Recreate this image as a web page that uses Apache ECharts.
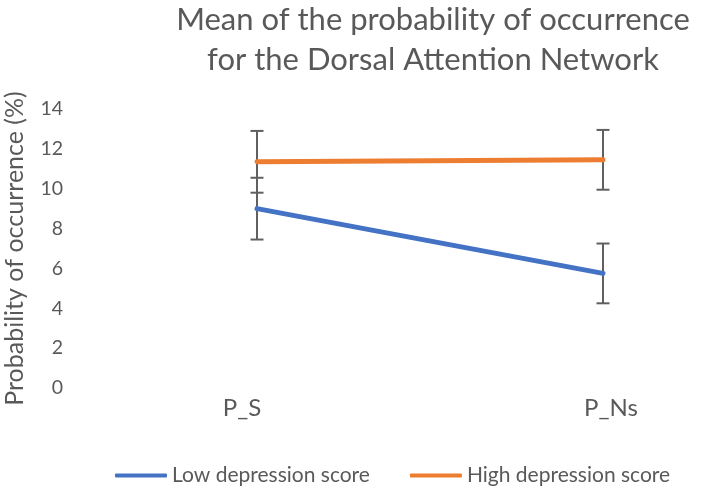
<!DOCTYPE html>
<html>
<head>
<meta charset="utf-8">
<script src="https://cdn.jsdelivr.net/npm/echarts@6/dist/echarts.min.js"></script>
<style>html,body{margin:0;padding:0;background:#fff;}#c{width:705px;height:494px;}</style>
</head>
<body>
<div id="c"></div>
<script>
var categories = ['P_S', 'P_Ns'];
var lowMean = [9.0, 5.75];
var lowErr = [1.55, 1.5];
var highMean = [11.35, 11.45];
var highErr = [1.55, 1.5];
var yTicks = [0, 2, 4, 6, 8, 10, 12, 14];

var FONT = 'Lato, "Open Sans", sans-serif';
var GREY = '#595959';

function errData(mean, err) {
  return categories.map(function (c, i) { return [i, mean[i] - err[i], mean[i] + err[i]]; });
}
function errRender(params, api) {
  var x = api.value(0);
  var lo = api.coord([x, api.value(1)]);
  var hi = api.coord([x, api.value(2)]);
  var hw = 6.5;
  var st = { stroke: '#606060', lineWidth: 2 };
  return {
    type: 'group',
    children: [
      { type: 'line', shape: { x1: lo[0], y1: lo[1], x2: hi[0], y2: hi[1] }, style: st },
      { type: 'line', shape: { x1: lo[0] - hw, y1: lo[1], x2: lo[0] + hw, y2: lo[1] }, style: st },
      { type: 'line', shape: { x1: hi[0] - hw, y1: hi[1], x2: hi[0] + hw, y2: hi[1] }, style: st }
    ]
  };
}

var chart = echarts.init(document.getElementById('c'), null, { renderer: 'canvas' });
chart.setOption({
  animation: false,
  backgroundColor: '#fff',
  textStyle: { fontFamily: FONT },
  title: {
    text: 'Mean of the probability of occurrence\nfor the Dorsal Attention Network',
    left: 433, top: 0, textAlign: 'center', padding: 0,
    textStyle: { fontFamily: FONT, fontSize: 31, fontWeight: 'normal', color: GREY, lineHeight: 40 }
  },
  legend: {
    left: 115, top: 465, padding: 0,
    itemWidth: 52, itemHeight: 4, itemGap: 40,
    icon: 'roundRect',
    textStyle: { fontFamily: FONT, fontSize: 21, color: GREY },
    data: ['Low depression score', 'High depression score']
  },
  grid: { left: 257, right: 102, top: 109, bottom: 106 },
  xAxis: {
    type: 'category', data: categories, boundaryGap: false,
    axisLine: { show: false }, axisTick: { show: false }, splitLine: { show: false },
    axisLabel: {
      margin: 8, color: GREY, fontFamily: FONT, fontSize: 24,
      formatter: function (v) { return v === 'P_S' ? '{a|' + v + '}' : '{b|' + v + '}'; },
      rich: {
        a: { padding: [0, 30, 0, 0], fontFamily: FONT, fontSize: 24, color: GREY },
        b: { padding: [0, 0, 0, 16], fontFamily: FONT, fontSize: 24, color: GREY }
      }
    }
  },
  yAxis: {
    type: 'value', min: yTicks[0], max: yTicks[yTicks.length - 1], interval: 2,
    offset: 187,
    name: 'Probability of occurrence (%)', nameLocation: 'middle', nameGap: 43,
    nameTextStyle: { fontFamily: FONT, fontSize: 25, color: GREY },
    axisLine: { show: false }, axisTick: { show: false }, splitLine: { show: false },
    axisLabel: { color: GREY, fontFamily: FONT, fontSize: 19.5, margin: 7 }
  },
  series: [
    { type: 'custom', name: 'errLow', renderItem: errRender, data: errData(lowMean, lowErr), z: 1, silent: true, encode: { x: 0, y: [1, 2] } },
    { type: 'custom', name: 'errHigh', renderItem: errRender, data: errData(highMean, highErr), z: 1, silent: true, encode: { x: 0, y: [1, 2] } },
    { type: 'line', name: 'Low depression score', data: lowMean, showSymbol: false, symbol: 'none', z: 3,
      lineStyle: { color: '#4472C4', width: 5, cap: 'round' }, itemStyle: { color: '#4472C4' } },
    { type: 'line', name: 'High depression score', data: highMean, showSymbol: false, symbol: 'none', z: 3,
      lineStyle: { color: '#ED7D31', width: 5, cap: 'round' }, itemStyle: { color: '#ED7D31' } }
  ]
});
</script>
</body>
</html>
